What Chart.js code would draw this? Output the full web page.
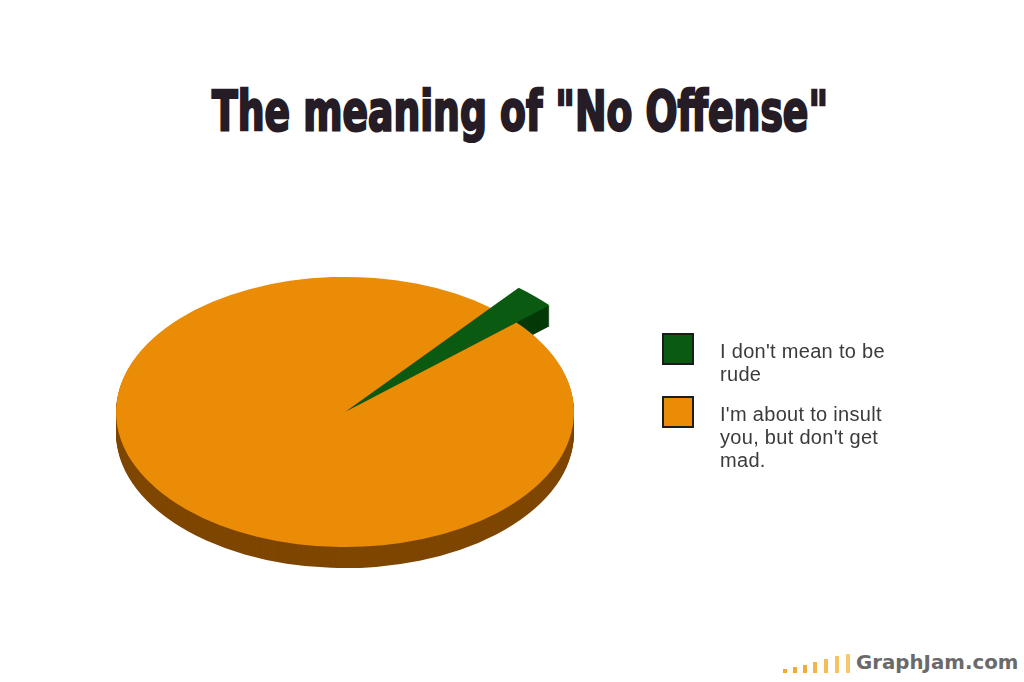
<!DOCTYPE html>
<html>
<head>
<meta charset="utf-8">
<script src="https://cdn.jsdelivr.net/npm/chart.js@4.4.1/dist/chart.umd.min.js"></script>
<style>
  html, body { margin: 0; padding: 0; background: #fff; }
  body { width: 1024px; height: 682px; position: relative; overflow: hidden; }
  #title {
    position: absolute; left: 0; top: 84px; width: 1040px; text-align: center;
    font-family: 'DejaVu Sans Condensed', sans-serif;
    font-weight: bold; font-size: 53px; line-height: 53px; color: #261c26;
    -webkit-text-stroke: 2.2px #261c26;
    transform: scale(0.79, 1.03);
    white-space: nowrap;
  }
  #chartBox { position: absolute; left: 0; top: 0; width: 690px; height: 682px; }
  .item { position: absolute; left: 662px; display: flex; }
  .swatch { width: 32px; height: 32px; box-sizing: border-box; border: 2px solid #1c1c1c; flex: none; }
  .label {
    margin-left: 26px; padding-top: 7px;
    font-family: Arial, 'Liberation Sans', sans-serif; font-size: 20px; line-height: 23px;
    color: #3b3b3b; letter-spacing: 0.3px; white-space: nowrap;
  }
  #footer { position: absolute; left: 0; top: 0; }
  .bar { position: absolute; width: 4px; }
  #site {
    position: absolute; left: 856px; top: 651px;
    font-family: 'DejaVu Sans', sans-serif; font-weight: bold; font-size: 19.8px;
    color: #6a6a6a; white-space: nowrap;
  }
</style>
</head>
<body>
<div id="title">The meaning of "No Offense"</div>
<div id="chartBox"><canvas id="pieChart"></canvas></div>
<div id="legend"></div>
<div id="footer">
  <span class="bar" style="left:783px; top:669px; height:4px; background:#f2a838"></span>
  <span class="bar" style="left:793px; top:667px; height:6px; background:#f2a838"></span>
  <span class="bar" style="left:803px; top:665px; height:8px; background:#f2aa3c"></span>
  <span class="bar" style="left:813px; top:662px; height:11px; background:#f4b448"></span>
  <span class="bar" style="left:824px; top:659px; height:14px; background:#f5bc55"></span>
  <span class="bar" style="left:835px; top:656px; height:17px; background:#f6c362"></span>
  <span class="bar" style="left:846px; top:654px; height:19px; background:#f7c86c"></span>
  <span id="site">GraphJam.com</span>
</div>
<script>
const labels = [["I don't mean to be", "rude"], ["I'm about to insult", "you, but don't get", "mad."]];
const values = [2.5, 97.5];
const colors = ['#0b5a12', '#ea8c06'];
const sideColors = ['#043a08', '#7e4600'];

// flattened, tilted pie with a visible edge
const pie3d = {
  id: 'pie3d',
  afterDatasetsUpdate(chart, args, opts) {
    const arcs = chart.getDatasetMeta(0).data;
    arcs[0].outerRadius += opts.pullOut;
  },
  beforeDatasetsDraw(chart, args, opts) {
    const ctx = chart.ctx;
    const arcs = chart.getDatasetMeta(0).data;
    const cx = arcs[0].x, cy = arcs[0].y;
    ctx.save();
    ctx.translate(cx, cy);
    ctx.scale(1, opts.tilt);
    ctx.translate(-cx, -cy);
    for (let k = opts.depth; k > 0; k--) {
      ctx.save();
      ctx.translate(0, k / opts.tilt);
      arcs.forEach((arc, i) => {
        const p = arc.getProps(['x', 'y', 'startAngle', 'endAngle', 'outerRadius']);
        ctx.beginPath();
        ctx.moveTo(p.x, p.y);
        ctx.arc(p.x, p.y, p.outerRadius, p.startAngle, p.endAngle);
        ctx.closePath();
        ctx.fillStyle = sideColors[i];
        ctx.fill();
      });
      ctx.restore();
    }
  },
  afterDatasetsDraw(chart) {
    chart.ctx.restore();
  }
};

const ctx = document.getElementById('pieChart');
const chart = new Chart(ctx, {
  type: 'pie',
  data: {
    labels: labels,
    datasets: [{
      data: values,
      backgroundColor: colors,
      borderWidth: 0,
      radius: 229
    }]
  },
  options: {
    responsive: true,
    maintainAspectRatio: false,
    animation: false,
    events: [],
    rotation: 39.5,
    layout: { padding: { top: 142 } },
    plugins: {
      legend: { display: false },
      tooltip: { enabled: false },
      pie3d: { tilt: 0.59, depth: 21, pullOut: 44 }
    }
  },
  plugins: [pie3d]
});

// legend on the right, built from the chart data
const legend = document.getElementById('legend');
labels.forEach((lines, i) => {
  const item = document.createElement('div');
  item.className = 'item';
  item.style.top = (333 + i * 63) + 'px';
  item.innerHTML = '<div class="swatch" style="background:' + colors[i] + '"></div>' +
    '<div class="label">' + lines.join('<br>') + '</div>';
  legend.appendChild(item);
});
</script>
</body>
</html>
